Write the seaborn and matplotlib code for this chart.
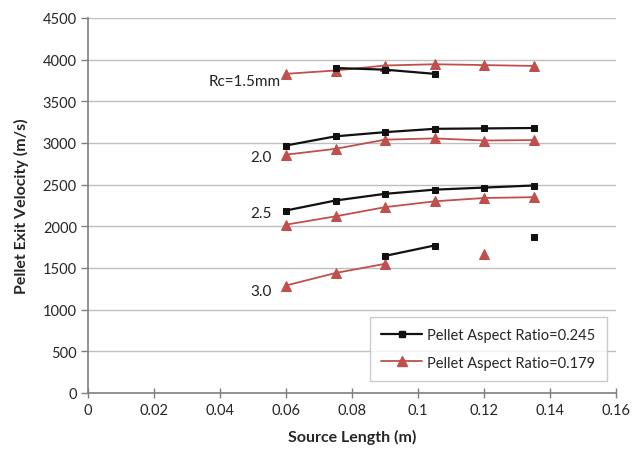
import numpy as np
import pandas as pd
import matplotlib
matplotlib.use("Agg")
import matplotlib.pyplot as plt
import seaborn as sns
from matplotlib.lines import Line2D

# Data
source_length = [0.06, 0.075, 0.09, 0.105, 0.12, 0.135]
nan = np.nan
# Pellet Aspect Ratio = 0.245 (black squares)
black_15 = [nan, 3900, 3880, 3830, nan, nan]
black_20 = [2970, 3080, 3130, 3170, 3175, 3180]
black_25 = [2190, 2310, 2390, 2440, 2465, 2490]
black_30 = [nan, nan, 1645, 1770, nan, 1870]
# Pellet Aspect Ratio = 0.179 (red triangles)
red_15 = [3830, 3870, 3930, 3945, 3935, 3925]
red_20 = [2860, 2930, 3040, 3055, 3030, 3035]
red_25 = [2020, 2120, 2230, 2300, 2340, 2350]
red_30 = [1290, 1440, 1550, nan, 1670, nan]

legend_labels = ["Pellet Aspect Ratio=0.245", "Pellet Aspect Ratio=0.179"]
rc_labels = ["Rc=1.5mm", "2.0", "2.5", "3.0"]
rc_label_pos = [(0.0585, 3745), (0.0558, 2835), (0.0558, 2160), (0.0558, 1225)]

sns.set_style("white")
plt.rcParams['font.family'] = ['Lato', 'DejaVu Sans']

fig = plt.figure(figsize=(6.34, 4.52), dpi=100)
ax = fig.add_axes([88/634, 1-394/452, (616-88)/634, (394-19)/452])

BLACK = "#111111"
RED = "#C0504D"

def segments(xs, ys):
    segs, cur = [], []
    for x, y in zip(xs, ys):
        if np.isnan(y):
            if cur:
                segs.append(cur)
            cur = []
        else:
            cur.append((x, y))
    if cur:
        segs.append(cur)
    return segs

def draw(ys, color, marker, ms, lw):
    for seg in segments(source_length, ys):
        df = pd.DataFrame(seg, columns=["x", "y"])
        sns.lineplot(data=df, x="x", y="y", ax=ax, color=color, marker=marker,
                     markersize=ms, markeredgecolor=color, markerfacecolor=color,
                     linewidth=lw, estimator=None, sort=False)

for ys in [red_15, red_20, red_25, red_30]:
    draw(ys, RED, "^", 6.5, 1.3)
for ys in [black_15, black_20, black_25, black_30]:
    draw(ys, BLACK, "s", 4.8, 1.6)

for lab, (x, y) in zip(rc_labels, rc_label_pos):
    ax.text(x, y, lab, ha="right", va="center", fontsize=11, color="#222222")

ax.set_xlim(0, 0.16)
ax.set_ylim(0, 4500)
ax.set_xticks(np.arange(0, 0.161, 0.02))
ax.set_xticklabels(["0", "0.02", "0.04", "0.06", "0.08", "0.1", "0.12", "0.14", "0.16"])
ax.set_yticks(np.arange(0, 4501, 500))
ax.yaxis.grid(True, color="#BFBFBF", linewidth=1.0)
ax.set_axisbelow(True)
for s in ["top", "right"]:
    ax.spines[s].set_visible(False)
for s in ["left", "bottom"]:
    ax.spines[s].set_color("#7F7F7F")
    ax.spines[s].set_linewidth(1.2)
ax.tick_params(axis="x", direction="inout", length=7, width=1, color="#7F7F7F",
               labelsize=10.5, pad=4, bottom=True)
ax.tick_params(axis="y", direction="out", length=5, width=1, color="#7F7F7F",
               labelsize=10.5, pad=3, left=True)

ax.set_xlabel("Source Length (m)", fontsize=11.5, fontweight="bold", labelpad=8)
ax.set_ylabel("Pellet Exit Velocity (m/s)", fontsize=11.5, fontweight="bold", labelpad=10)

handles = [Line2D([], [], color=BLACK, marker="s", markersize=4.8, linewidth=1.6),
           Line2D([], [], color=RED, marker="^", markersize=6.5, linewidth=1.3)]
leg = ax.legend(handles, legend_labels, loc="lower right", bbox_to_anchor=(0.996, 0.012),
                frameon=True, fancybox=False, edgecolor="#BFBFBF", fontsize=10.5,
                handlelength=2.8, borderpad=0.8, labelspacing=0.9, handletextpad=0.3)
leg.get_frame().set_linewidth(1.0)

fig.savefig("out.png", dpi=100)
